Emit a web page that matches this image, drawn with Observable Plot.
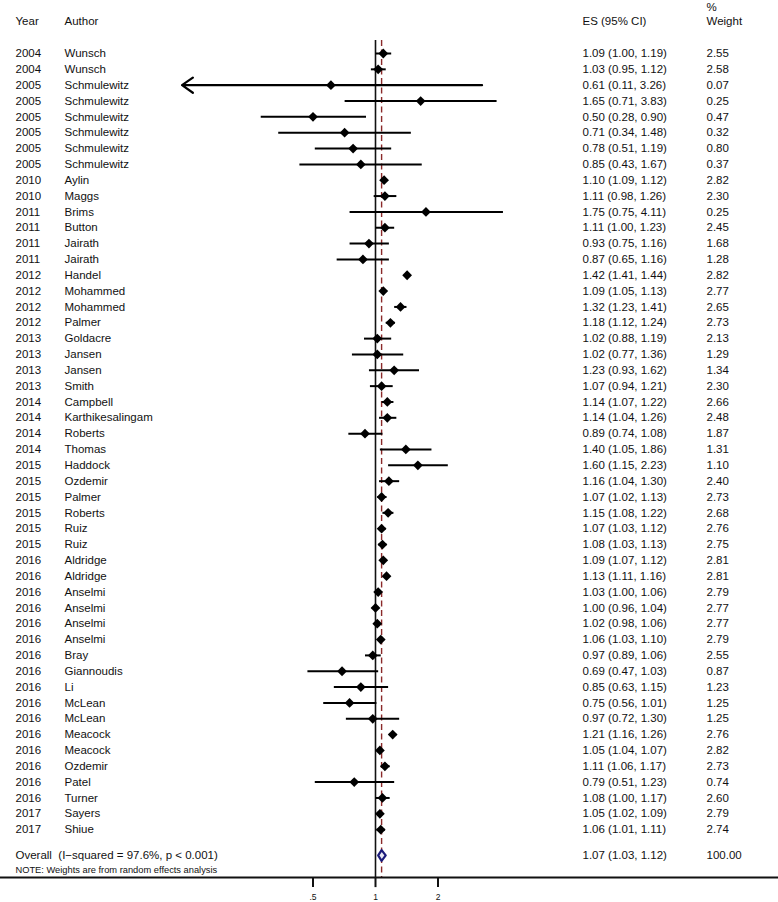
<!DOCTYPE html>
<html>
<head>
<meta charset="utf-8">
<script src="https://cdn.jsdelivr.net/npm/d3@7"></script>
<script src="https://cdn.jsdelivr.net/npm/@observablehq/plot@0.6"></script>
<style>
  html, body { margin: 0; padding: 0; background: #fff; }
  #chart svg { display: block; }
</style>
</head>
<body>
<div id="chart"></div>
<script>
// ---- Data ----
const years = [2004,2004,2005,2005,2005,2005,2005,2005,2010,2010,2011,2011,2011,2011,2012,2012,2012,2012,2013,2013,2013,2013,2014,2014,2014,2014,2015,2015,2015,2015,2015,2015,2016,2016,2016,2016,2016,2016,2016,2016,2016,2016,2016,2016,2016,2016,2016,2016,2017,2017];
const authors = ["Wunsch","Wunsch","Schmulewitz","Schmulewitz","Schmulewitz","Schmulewitz","Schmulewitz","Schmulewitz","Aylin","Maggs","Brims","Button","Jairath","Jairath","Handel","Mohammed","Mohammed","Palmer","Goldacre","Jansen","Jansen","Smith","Campbell","Karthikesalingam","Roberts","Thomas","Haddock","Ozdemir","Palmer","Roberts","Ruiz","Ruiz","Aldridge","Aldridge","Anselmi","Anselmi","Anselmi","Anselmi","Bray","Giannoudis","Li","McLean","McLean","Meacock","Meacock","Ozdemir","Patel","Turner","Sayers","Shiue"];
const es = [1.09,1.03,0.61,1.65,0.50,0.71,0.78,0.85,1.10,1.11,1.75,1.11,0.93,0.87,1.42,1.09,1.32,1.18,1.02,1.02,1.23,1.07,1.14,1.14,0.89,1.40,1.60,1.16,1.07,1.15,1.07,1.08,1.09,1.13,1.03,1.00,1.02,1.06,0.97,0.69,0.85,0.75,0.97,1.21,1.05,1.11,0.79,1.08,1.05,1.06];
const ciLow = [1.00,0.95,0.11,0.71,0.28,0.34,0.51,0.43,1.09,0.98,0.75,1.00,0.75,0.65,1.41,1.05,1.23,1.12,0.88,0.77,0.93,0.94,1.07,1.04,0.74,1.05,1.15,1.04,1.02,1.08,1.03,1.03,1.07,1.11,1.00,0.96,0.98,1.03,0.89,0.47,0.63,0.56,0.72,1.16,1.04,1.06,0.51,1.00,1.02,1.01];
const ciHigh = [1.19,1.12,3.26,3.83,0.90,1.48,1.19,1.67,1.12,1.26,4.11,1.23,1.16,1.16,1.44,1.13,1.41,1.24,1.19,1.36,1.62,1.21,1.22,1.26,1.08,1.86,2.23,1.30,1.13,1.22,1.12,1.13,1.12,1.16,1.06,1.04,1.06,1.10,1.06,1.03,1.15,1.01,1.30,1.26,1.07,1.17,1.23,1.17,1.09,1.11];
const weights = [2.55,2.58,0.07,0.25,0.47,0.32,0.80,0.37,2.82,2.30,0.25,2.45,1.68,1.28,2.82,2.77,2.65,2.73,2.13,1.29,1.34,2.30,2.66,2.48,1.87,1.31,1.10,2.40,2.73,2.68,2.76,2.75,2.81,2.81,2.79,2.77,2.77,2.79,2.55,0.87,1.23,1.25,1.25,2.76,2.82,2.73,0.74,2.60,2.79,2.74];

const overallLabel = "Overall  (I\u2212squared = 97.6%, p < 0.001)";
const overallEs = 1.07, overallLow = 1.03, overallHigh = 1.12, overallWeight = 100.00;
const noteText = "NOTE: Weights are from random effects analysis";

const headerYear = "Year", headerAuthor = "Author", headerEs = "ES (95% CI)", headerPct = "%", headerWeight = "Weight";
const tickValues = [0.5, 1, 2];
const tickLabels = [".5", "1", "2"];
const axisClipLow = 0.117;   // lower display limit of the CI axis (arrow drawn beyond)

// ---- Table built from arrays ----
const rows = years.map((yr, i) => ({
  idx: i + 1, year: yr, author: authors[i], es: es[i], lo: ciLow[i], hi: ciHigh[i], w: weights[i],
  clipped: ciLow[i] < axisClipLow
}));
const fmt = v => v.toFixed(2);
const esText = d => `${fmt(d.es)} (${fmt(d.lo)}, ${fmt(d.hi)})`;

// layout in row units
const overallRow = 51.63;
const noteRow = 52.58;
const axisRow = 53.02;
const headerRow = -1.04;
const pctRow = -1.885;
const lineTop = 0.18;

const W = 778, H = 902;
const xAt1 = 375, pxPerDoubling = 62.5;
const xDomain = [Math.pow(2, -xAt1 / pxPerDoubling), Math.pow(2, (W - xAt1) / pxPerDoubling)];
const yDomain = [-2.346, 54.6];

const diamondH = 0.34;
const overallDiamond = [
  {x: overallLow, y: overallRow}, {x: overallEs, y: overallRow - diamondH},
  {x: overallHigh, y: overallRow}, {x: overallEs, y: overallRow + diamondH},
  {x: overallLow, y: overallRow}
];

const font = "'Liberation Sans', Arial, Helvetica, sans-serif";
const fs = 11.5;
const textColor = "#111";

const leftText = (data, opts) => Plot.text(data, {frameAnchor: "left", textAnchor: "start", fontSize: fs, fill: textColor, ...opts});

const chart = Plot.plot({
  width: W, height: H,
  marginTop: 0, marginBottom: 0, marginLeft: 0, marginRight: 0,
  style: {fontFamily: font, background: "#fff", color: textColor},
  x: {type: "log", domain: xDomain, axis: null},
  y: {domain: yDomain, range: [0, H], axis: null},
  marks: [
    // reference lines
    Plot.ruleX([1], {y1: lineTop, y2: axisRow, stroke: "#111", strokeWidth: 1.6}),
    Plot.ruleX([overallEs], {y1: lineTop, y2: axisRow, stroke: "#8b2a2a", strokeWidth: 1.4, strokeDasharray: "6,3.5"}),
    // CIs
    Plot.link(rows.filter(d => !d.clipped), {x1: "lo", x2: "hi", y1: "idx", y2: "idx", stroke: "#000", strokeWidth: 2}),
    Plot.arrow(rows.filter(d => d.clipped), {x1: "hi", x2: () => axisClipLow, y1: "idx", y2: "idx", stroke: "#000", strokeWidth: 2.2, headLength: 9, headAngle: 70, bend: 0}),
    // point estimates
    Plot.dot(rows, {x: "es", y: "idx", symbol: "diamond2", r: 4.4, fill: "#000", stroke: "none"}),
    // overall diamond
    Plot.line(overallDiamond, {x: "x", y: "y", stroke: "#1b1b7a", strokeWidth: 2.2, fill: "#e8e8f4", curve: "linear-closed"}),
    // axis
    Plot.ruleY([axisRow], {stroke: "#111", strokeWidth: 2}),
    Plot.ruleX(tickValues, {x: d => d, y1: axisRow, y2: axisRow + 0.64, stroke: "#111", strokeWidth: 2}),
    Plot.text(tickValues, {x: d => d, y: axisRow + 1.27, text: (d, i) => tickLabels[i], fontSize: 8.5, fill: textColor}),
    // headers
    leftText([headerYear], {y: () => headerRow, text: d => d, dx: 15}),
    leftText([headerAuthor], {y: () => headerRow, text: d => d, dx: 64}),
    leftText([headerEs], {y: () => headerRow, text: d => d, dx: 582}),
    leftText([headerPct], {y: () => pctRow, text: d => d, dx: 706}),
    leftText([headerWeight], {y: () => headerRow, text: d => d, dx: 706}),
    // study rows
    leftText(rows, {y: "idx", text: d => String(d.year), dx: 15}),
    leftText(rows, {y: "idx", text: "author", dx: 64}),
    leftText(rows, {y: "idx", text: esText, dx: 582}),
    leftText(rows, {y: "idx", text: d => fmt(d.w), dx: 706}),
    // overall row
    leftText([overallLabel], {y: () => overallRow, text: d => d, dx: 15}),
    leftText([{es: overallEs, lo: overallLow, hi: overallHigh}], {y: () => overallRow, text: esText, dx: 582}),
    leftText([overallWeight], {y: () => overallRow, text: d => fmt(d), dx: 706}),
    // note
    leftText([noteText], {y: () => noteRow, text: d => d, dx: 15, fontSize: 9.3})
  ]
});
document.getElementById("chart").appendChild(chart);
</script>
</body>
</html>
